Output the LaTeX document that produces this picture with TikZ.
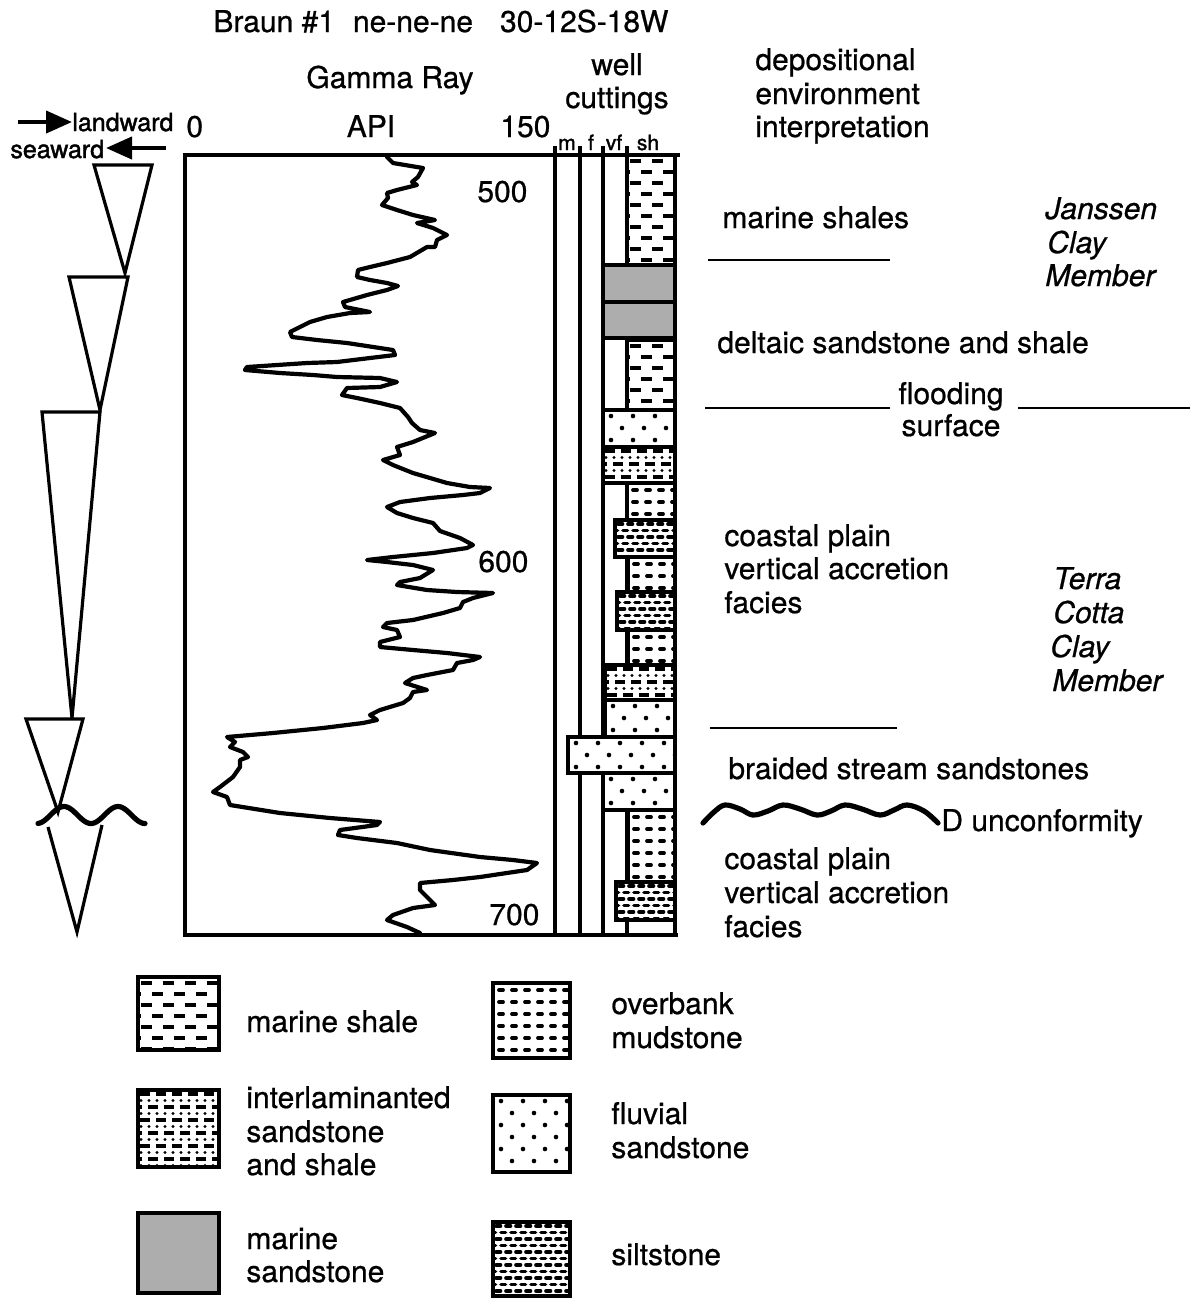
\documentclass[tikz,border=0pt]{standalone}
\usepackage{fontspec}
\setmainfont{TeX Gyre Heros}[FakeBold=0.7]
\newfontfamily\boldish{TeX Gyre Heros}[FakeBold=1.6]
\usetikzlibrary{arrows.meta}
\tikzset{
 lbl/.style={inner sep=0pt,anchor=base west,font=\fontsize{15}{18}\selectfont},
 lblc/.style={inner sep=0pt,anchor=base,font=\fontsize{15}{18}\selectfont},
 lbli/.style={inner sep=0pt,anchor=base west,font=\fontsize{15}{18}\selectfont\itshape},
 tiny/.style={inner sep=0pt,anchor=base,font=\boldish\fontsize{10.5}{12}\selectfont},
 sidelbl/.style={inner sep=0pt,anchor=base west,font=\boldish\fontsize{12.5}{15}\selectfont},
 litho/.style={line width=1.9pt},
 rule/.style={line width=1.3pt},
 colline/.style={line width=1.6pt},
 grcurve/.style={line width=2.1pt,line join=round,line cap=round},
 tri/.style={line width=1.6pt,line join=miter},
 wavy/.style={line width=2.6pt,line cap=round},
 bar/.style={line width=1.8pt},
 dirarrow/.style={line width=2pt,-{Triangle[length=13pt,width=11pt]}},
}
\newcommand{\boxout}[4]{\draw[litho] (#1,#2) rectangle (#3,#4);}
\newcommand{\pShale}[4]{%
 \fill[white] (#1,#2) rectangle (#3,#4);
 \begin{scope}\clip (#1,#2) rectangle (#3,#4);
 \foreach \r in {0,...,13}{\foreach \c in {-1,...,5}{
  \draw[bar] ({#1+3+\c*22+mod(\r,2)*11},{#2+6+\r*11}) -- ++(11,0);}}
 \end{scope}\boxout{#1}{#2}{#3}{#4}}
\newcommand{\pMSand}[4]{%
 \fill[black!32] (#1,#2) rectangle (#3,#4);\boxout{#1}{#2}{#3}{#4}}
\newcommand{\pInter}[4]{%
 \fill[white] (#1,#2) rectangle (#3,#4);
 \begin{scope}\clip (#1,#2) rectangle (#3,#4);
 \foreach \r in {0,...,7}{
  \foreach \c in {-1,...,8}{
   \draw[line width=1.6pt] ({#1+2+\c*16+mod(\r,2)*8},{#2+4+\r*13}) -- ++(10,0);}
  \foreach \c in {0,...,16}{
   \fill ({#1+3+\c*8},{#2+10.5+\r*13}) circle[radius=0.85pt];}}
 \end{scope}\boxout{#1}{#2}{#3}{#4}}
\newcommand{\pOver}[4]{%
 \fill[white] (#1,#2) rectangle (#3,#4);
 \begin{scope}\clip (#1,#2) rectangle (#3,#4);
 \foreach \r in {0,...,8}{\foreach \c in {0,...,12}{
  \draw[line width=1.9pt,line cap=round] ({#1+6+\c*13},{#2+7+\r*12}) -- ++(4,0);}}
 \end{scope}\boxout{#1}{#2}{#3}{#4}}
\newcommand{\pFluv}[4]{%
 \fill[white] (#1,#2) rectangle (#3,#4);
 \begin{scope}\clip (#1,#2) rectangle (#3,#4);
 \foreach \r in {0,...,8}{\foreach \c in {-1,...,6}{
  \fill ({#1+8+\c*22+mod(\r,2)*11},{#2+6+\r*12}) circle[radius=1.15pt];}}
 \end{scope}\boxout{#1}{#2}{#3}{#4}}
\newcommand{\pSilt}[4]{%
 \fill[white] (#1,#2) rectangle (#3,#4);
 \begin{scope}\clip (#1,#2) rectangle (#3,#4);
 \foreach \r in {0,...,15}{\foreach \c in {-1,...,12}{
  \draw[line width=1.8pt,line cap=round] ({#1+3+\c*10+mod(\r,2)*5},{#2+4+\r*6.5}) -- ++(4.5,0);}}
 \end{scope}\boxout{#1}{#2}{#3}{#4}}
\begin{document}
\begin{tikzpicture}[x=0.5pt,y=-0.5pt]
\useasboundingbox[fill=white] (0,0) rectangle (1194,1298);

% headings
\node[lbl] (title) at (213,32) {Braun \#1\hspace{0.6em}ne-ne-ne\hspace{0.9em}30-12S-18W};
\node[lblc] (gr) at (390,88) {Gamma Ray};
\node[lblc] (well) at (617,75) {well};
\node[lblc] (cut) at (617,108) {cuttings};
\node[lbl] (dep1) at (755,70) {depositional};
\node[lbl] (dep2) at (755,104) {environment};
\node[lbl] (dep3) at (755,137) {interpretation};
\node[lbl] (zero) at (186,137) {0};
\node[lblc] (api) at (371,137) {API};
\node[lbl] (onefifty) at (500,137) {150};
\node[tiny] (cm) at (567,150) {m};
\node[tiny] (cf) at (591,150) {f};
\node[tiny] (cvf) at (614,150) {vf};
\node[tiny] (csh) at (648,150) {sh};

% landward / seaward
\node[sidelbl] (land) at (72,131) {landward};
\node[sidelbl] (sea) at (10,158) {seaward};
\coordinate (la) at (18,122);
\coordinate (lb) at (72,122);
\coordinate (sa) at (166,148);
\coordinate (sb) at (106,148);
\draw[dirarrow] (la) -- (lb);
\draw[dirarrow] (sa) -- (sb);

% column lines (drawn before litho boxes)
\draw[colline] (555,146) -- (555,935);
\draw[colline] (580,146) -- (580,935);
\draw[colline] (603,146) -- (603,935);
\draw[colline] (627,146) -- (627,935);
\draw[colline] (675,155) -- (675,935);

% lithology column
\pShale{627}{155}{675}{265}
\pMSand{603}{265}{675}{302}
\pMSand{603}{302}{675}{338}
\pShale{627}{340}{675}{410}
\pFluv{603}{410}{675}{447}
\pInter{603}{447}{675}{483}
\pOver{627}{483}{675}{520}
\pSilt{615}{520}{675}{557}
\pOver{628}{557}{675}{592}
\pSilt{617}{592}{675}{630}
\pOver{628}{630}{675}{665}
\pInter{605}{665}{675}{700}
\pFluv{605}{700}{675}{737}
\pFluv{568}{737}{675}{773}
\pFluv{603}{773}{675}{810}
\pOver{628}{810}{675}{882}
\pSilt{616}{882}{675}{920}

% GR box frame
\draw[litho] (680,155) -- (185,155) -- (185,935) -- (678,935);

% depth labels
\node[lbl] (d500) at (477,202) {500};
\node[lbl] (d600) at (478,572) {600};
\node[lbl] (d700) at (489,925) {700};

% gamma ray curve
\draw[grcurve] plot coordinates {
(387,157) (393,163) (423,168) (418,177) (412,182) (417,185) (397,190) (387,193) (388,198) (382,205)
(397,210) (413,215) (435,220) (417,223) (433,228) (447,235) (437,240) (435,247) (427,247) (410,257)
(387,263) (370,267) (358,270) (357,277) (370,280) (387,283) (398,286) (387,290) (367,295) (343,302)
(345,307) (370,312) (350,313) (327,317) (310,322) (290,332) (292,337) (317,340) (347,343) (393,350)
(395,355) (370,358) (337,362) (307,363) (277,365) (247,367) (245,370) (280,373) (313,375) (337,377)
(380,378) (397,382) (380,387) (347,388) (342,395) (357,398) (380,403) (400,408) (408,417) (412,423)
(420,430) (435,433) (413,442) (397,447) (400,455) (383,460) (393,465) (413,473) (430,478) (447,483)
(470,487) (490,488) (480,493) (463,495) (430,498) (400,502) (387,507) (397,513) (413,518) (433,523)
(440,531) (460,538) (473,545) (467,548) (433,553) (393,557) (367,560) (387,562) (413,565) (433,570)
(420,578) (400,582) (397,585) (427,590) (457,592) (493,593) (473,598) (463,602) (460,608) (443,613)
(413,620) (387,623) (383,627) (397,630) (400,637) (380,642) (380,647) (413,650) (447,653) (480,657)
(473,660) (457,663) (453,670) (427,675) (413,678) (405,683) (427,690) (413,692) (410,698) (403,703)
(380,710) (370,715) (377,720) (363,723) (323,728) (273,733) (227,737) (235,742) (230,747) (243,752)
(248,757) (240,760) (240,767) (233,777) (220,787) (213,792) (227,797) (230,805) (280,813) (330,818)
(380,822) (377,825) (340,830) (338,835) (357,838) (397,843) (430,850) (480,857) (513,860) (537,863)
(527,870) (480,877) (453,880) (420,883) (420,890) (427,897) (435,905) (413,908) (393,915) (387,920)
(407,927) (420,933)};

% triangles
\draw[tri] (94,165) -- (152,165) -- (125,273) -- cycle;
\draw[tri] (69,277) -- (128,277) -- (100,410) -- cycle;
\draw[tri] (42,412) -- (100,412) -- (72,718) -- cycle;
\draw[tri] (26,719) -- (83,719) -- (58,812) -- cycle;
\draw[tri] (48,827) -- (77,932) -- (102,825);
\draw[wavy] plot[domain=38:145,samples=60] (\x,{815-8.5*cos((\x-64)/54*360)});

% right side interpretation
\node[lbl] (ms) at (722,228) {marine shales};
\draw[rule] (708,260) -- (890,260);
\node[lbli] (j1) at (1045,219) {Janssen};
\node[lbli] (j2) at (1047,253) {Clay};
\node[lbli] (j3) at (1045,286) {Member};
\node[lbl] (delt) at (717,353) {deltaic sandstone and shale};
\node[lblc] (fl1) at (951,404) {flooding};
\node[lblc] (fl2) at (951,436) {surface};
\draw[rule] (705,408) -- (890,408);
\draw[rule] (1018,408) -- (1190,408);
\node[lbl] (cp1) at (724,546) {coastal plain};
\node[lbl] (cp2) at (724,579) {vertical accretion};
\node[lbl] (cp3) at (724,613) {facies};
\node[lbli] (t1) at (1053,589) {Terra};
\node[lbli] (t2) at (1053,623) {Cotta};
\node[lbli] (t3) at (1050,657) {Clay};
\node[lbli] (t4) at (1052,691) {Member};
\draw[rule] (710,728) -- (897,728);
\node[lbl] (braid) at (728,779) {braided stream sandstones};
\draw[wavy] plot[smooth,tension=0.6] coordinates {(703,823) (714,812) (725,805) (740,809) (753,815) (768,811) (783,805) (800,809) (817,815) (831,811) (845,805) (862,809) (880,815) (894,810) (907,805) (924,811) (938,823)};
\node[lbl] (unc) at (941,831) {D unconformity};
\node[lbl] (cq1) at (724,869) {coastal plain};
\node[lbl] (cq2) at (724,903) {vertical accretion};
\node[lbl] (cq3) at (724,937) {facies};

% legend
\pShale{138}{977}{219}{1050}
\node[lbl] (lg1) at (246,1032) {marine shale};
\pInter{138}{1090}{219}{1167}
\node[lbl] (lg2a) at (246,1108) {interlaminanted};
\node[lbl] (lg2b) at (246,1142) {sandstone};
\node[lbl] (lg2c) at (246,1175) {and shale};
\pMSand{138}{1213}{219}{1293}
\node[lbl] (lg3a) at (246,1249) {marine};
\node[lbl] (lg3b) at (246,1282) {sandstone};
\pOver{493}{983}{570}{1058}
\node[lbl] (lg4a) at (611,1014) {overbank};
\node[lbl] (lg4b) at (611,1048) {mudstone};
\pFluv{493}{1095}{570}{1172}
\node[lbl] (lg5a) at (611,1124) {fluvial};
\node[lbl] (lg5b) at (611,1158) {sandstone};
\pSilt{493}{1222}{570}{1296}
\node[lbl] (lg6) at (611,1265) {siltstone};
\end{tikzpicture}
\end{document}
